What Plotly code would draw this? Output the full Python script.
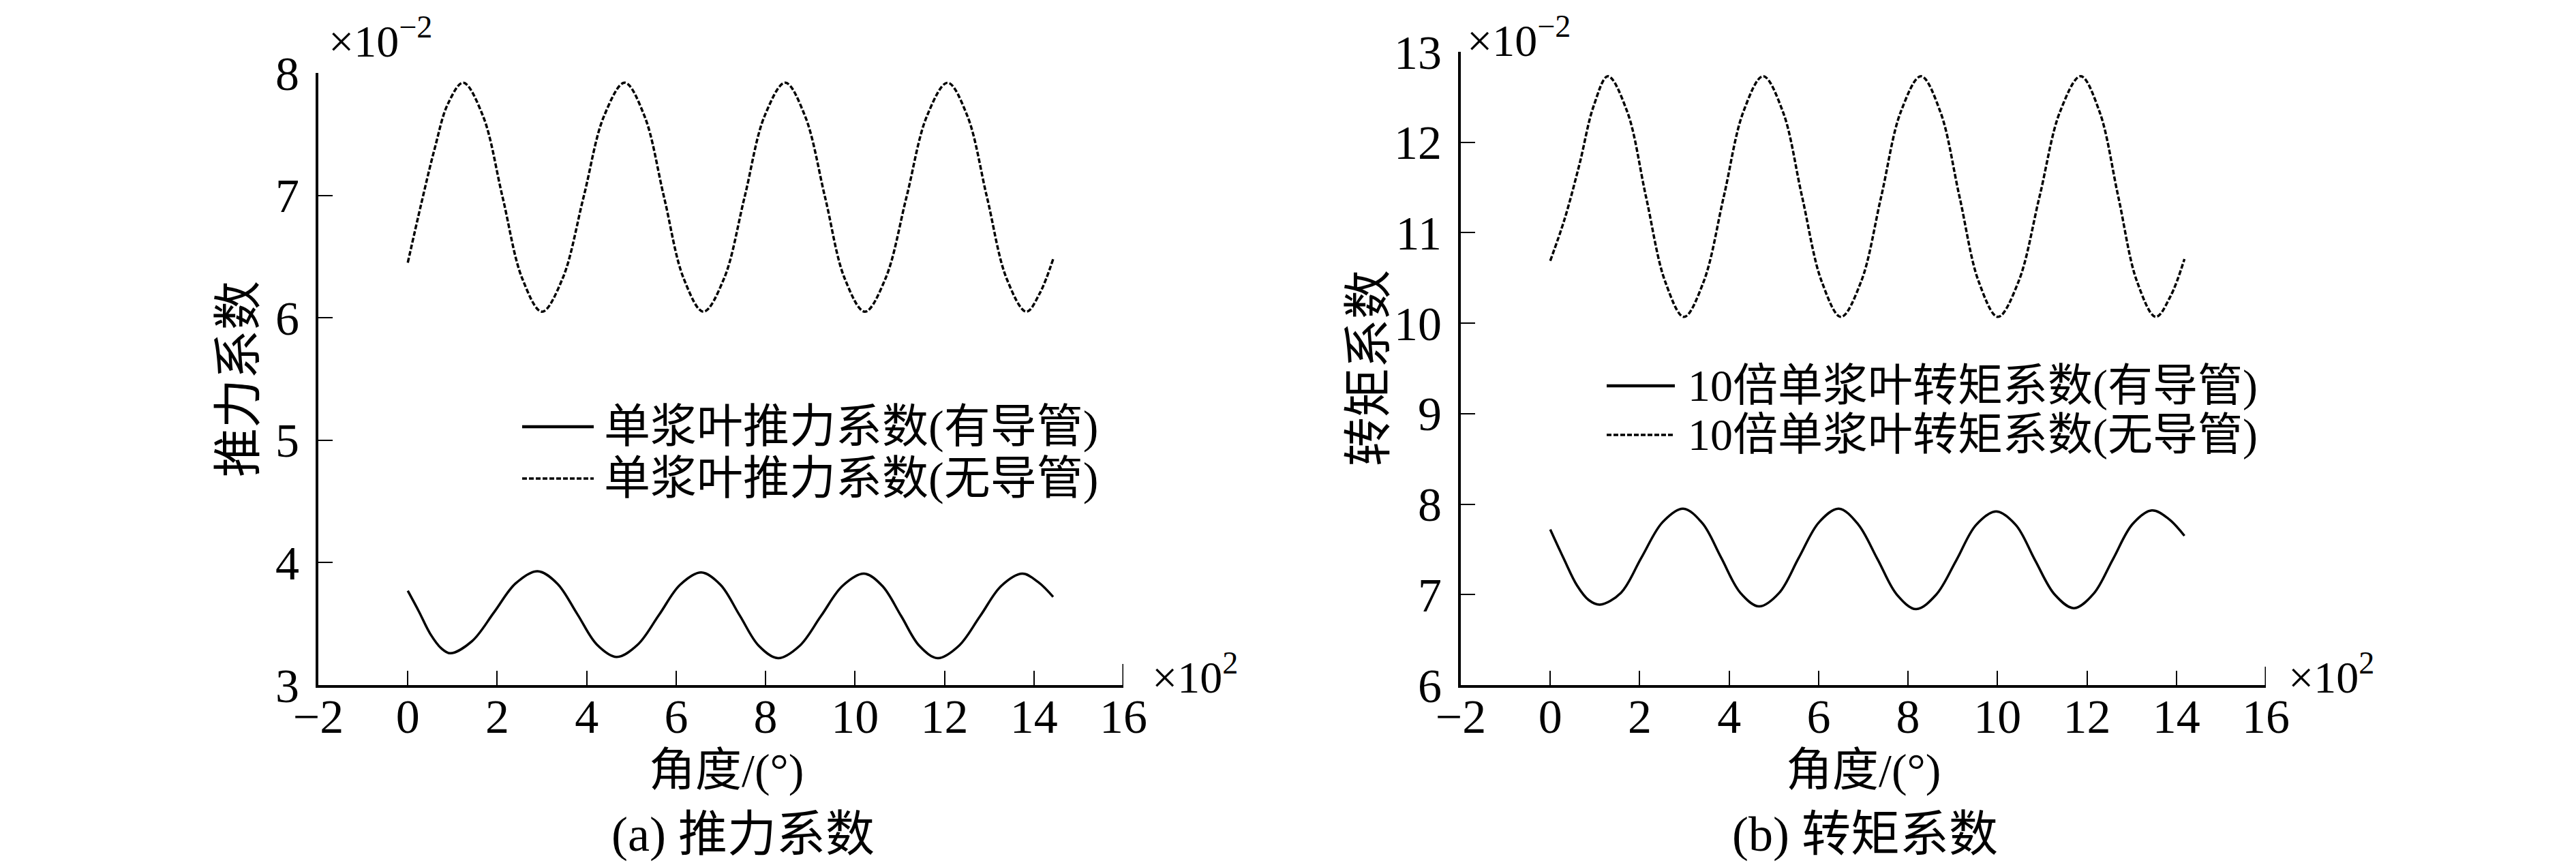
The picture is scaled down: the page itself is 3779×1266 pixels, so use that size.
import plotly.graph_objects as go

# ---- datos ----
# (a) coeficiente de empuje, x en x10^2 grados, y en x10^-2
ang_a_sin = [0, 0.3, 0.6, 0.9, 1.24, 1.68, 2.12, 2.56, 3.0, 3.46, 3.93, 4.39, 4.85,
             5.29, 5.73, 6.17, 6.61, 7.07, 7.53, 7.98, 8.44, 8.88, 9.33, 9.77, 10.22,
             10.68, 11.15, 11.61, 12.07, 12.51, 12.95, 13.39, 13.83, 14.13, 14.43]
kt_sin = [6.45, 6.93, 7.38, 7.75, 7.92, 7.65, 6.985, 6.32, 6.05, 6.32, 6.985, 7.65, 7.92,
          7.65, 6.985, 6.32, 6.05, 6.32, 6.985, 7.65, 7.92, 7.65, 6.985, 6.32, 6.05,
          6.32, 6.985, 7.65, 7.92, 7.65, 6.985, 6.32, 6.05, 6.2, 6.48]

ang_a_con = [0, 0.25, 0.5, 0.75, 0.95, 1.44, 1.93, 2.41, 2.9, 3.34, 3.79, 4.23, 4.67,
             5.14, 5.62, 6.09, 6.56, 6.99, 7.42, 7.85, 8.28, 8.76, 9.24, 9.72, 10.2,
             10.61, 11.03, 11.44, 11.85, 12.32, 12.8, 13.27, 13.74, 14.1, 14.43]
kt_con = [3.77, 3.6, 3.42, 3.3, 3.26, 3.36, 3.595, 3.83, 3.93, 3.83, 3.58, 3.33, 3.23,
          3.33, 3.575, 3.82, 3.92, 3.82, 3.57, 3.32, 3.22, 3.32, 3.565, 3.81, 3.91,
          3.81, 3.565, 3.32, 3.22, 3.32, 3.565, 3.81, 3.91, 3.84, 3.72]

# (b) coeficiente de par (x10)
ang_b_sin = [0, 0.32, 0.65, 0.97, 1.29, 1.72, 2.14, 2.57, 2.99, 3.43, 3.88, 4.32, 4.76,
             5.2, 5.63, 6.07, 6.5, 6.95, 7.4, 7.84, 8.29, 8.72, 9.15, 9.58, 10.01,
             10.47, 10.94, 11.4, 11.86, 12.28, 12.7, 13.12, 13.54, 13.87, 14.18]
kq_sin = [10.69, 11.15, 11.75, 12.4, 12.73, 12.34, 11.4, 10.46, 10.07, 10.46, 11.4, 12.34, 12.73,
          12.34, 11.4, 10.46, 10.07, 10.46, 11.4, 12.34, 12.73, 12.34, 11.4, 10.46, 10.07,
          10.46, 11.4, 12.34, 12.73, 12.34, 11.4, 10.46, 10.07, 10.3, 10.71]

ang_b_con = [0, 0.3, 0.6, 0.86, 1.11, 1.58, 2.04, 2.51, 2.97, 3.4, 3.82, 4.25, 4.67,
             5.12, 5.56, 6.01, 6.45, 6.88, 7.32, 7.75, 8.18, 8.63, 9.08, 9.52, 9.97,
             10.41, 10.84, 11.28, 11.71, 12.15, 12.58, 13.02, 13.45, 13.82, 14.18]
kq_con = [7.72, 7.4, 7.1, 6.94, 6.89, 7.02, 7.41, 7.8, 7.95, 7.79, 7.41, 7.02, 6.87,
          7.02, 7.41, 7.8, 7.95, 7.78, 7.39, 7.0, 6.84, 7.0, 7.38, 7.77, 7.92,
          7.77, 7.38, 7.0, 6.85, 7.01, 7.39, 7.78, 7.93, 7.84, 7.65]

nombres_a = ['单浆叶推力系数(有导管)', '单浆叶推力系数(无导管)']
nombres_b = ['10倍单浆叶转矩系数(有导管)', '10倍单浆叶转矩系数(无导管)']
x_ticks = [-2, 0, 2, 4, 6, 8, 10, 12, 14, 16]
y_ticks_a = [3, 4, 5, 6, 7, 8]
y_ticks_b = [6, 7, 8, 9, 10, 11, 12, 13]

W, H = 3779, 1266
FUENTE = 'Liberation Serif, Noto Sans CJK SC'
DASH = '7px,3px'


def px(x):
    return x / W


def py(y):
    return 1 - y / H


fig = go.Figure()

fig.add_trace(go.Scatter(x=ang_a_con, y=kt_con, mode='lines', line=dict(color='black', width=3.5, shape='spline'),
                         xaxis='x', yaxis='y', showlegend=False))
fig.add_trace(go.Scatter(x=ang_a_sin, y=kt_sin, mode='lines', line=dict(color='black', width=3.5, dash=DASH, shape='spline'),
                         xaxis='x', yaxis='y', showlegend=False))
fig.add_trace(go.Scatter(x=ang_b_con, y=kq_con, mode='lines', line=dict(color='black', width=3.5, shape='spline'),
                         xaxis='x2', yaxis='y2', showlegend=False))
fig.add_trace(go.Scatter(x=ang_b_sin, y=kq_sin, mode='lines', line=dict(color='black', width=3.5, dash=DASH, shape='spline'),
                         xaxis='x2', yaxis='y2', showlegend=False))

ejes = dict(showline=True, linecolor='black', linewidth=4, mirror=False, showgrid=False, zeroline=False,
            ticks='inside', ticklen=21, tickwidth=2, tickcolor='black', automargin=False,
            tickfont=dict(family=FUENTE, size=70, color='black'))

fig.update_layout(
    width=W, height=H,
    margin=dict(l=0, r=0, t=0, b=0, autoexpand=False),
    paper_bgcolor='white', plot_bgcolor='white',
    font=dict(family=FUENTE, color='black'),
    xaxis=dict(domain=[px(459), px(1640)], range=[-2, 16], tickvals=x_ticks, anchor='y',
               ticklabelstandoff=-18, **ejes),
    yaxis=dict(domain=[py(997), py(99)], range=[3, 8], tickvals=y_ticks_a, anchor='x',
               ticklabelstandoff=10, **ejes),
    xaxis2=dict(domain=[px(2135), px(3316)], range=[-2, 16], tickvals=x_ticks, anchor='y2',
                ticklabelstandoff=-18, **ejes),
    yaxis2=dict(domain=[py(997), py(68)], range=[6, 13], tickvals=y_ticks_b, anchor='x2',
                ticklabelstandoff=10, **ejes),
)

# marca final del eje x en 16
for xr, yr, alto in [('x', 'y domain', 31 / 898), ('x2', 'y2 domain', 27 / 929)]:
    fig.add_shape(type='line', xref=xr, yref=yr, x0=16, x1=16, y0=0, y1=alto,
                  line=dict(color='black', width=3))

# leyendas dibujadas a mano (muestra larga como en el original)
leyendas = [
    (nombres_a, 758, 863, 876, [618, 694], 68),
    (nombres_b, 2349, 2449, 2466, [558, 630], 66),
]
for nombres, xa, xb, xt, filas, tam in leyendas:
    for i, (nom, fy) in enumerate(zip(nombres, filas)):
        fig.add_shape(type='line', xref='paper', yref='paper', x0=px(xa), x1=px(xb), y0=py(fy), y1=py(fy),
                      line=dict(color='black', width=4.5 if i == 0 else 3.5, dash=None if i == 0 else DASH))
        fig.add_annotation(text=nom, xref='paper', yref='paper', x=px(xt), y=py(fy),
                           xanchor='left', yanchor='middle', showarrow=False,
                           font=dict(family=FUENTE, size=tam, color='black'))

textos = [
    ('×10<sup>−2</sup>', 472, 48, 'left', 66),
    ('×10<sup>2</sup>', 1680, 980, 'left', 66),
    ('×10<sup>−2</sup>', 2142, 46, 'left', 66),
    ('×10<sup>2</sup>', 3347, 980, 'left', 66),
    ('角度/(°)', 1057, 1122, 'center', 68),
    ('角度/(°)', 2725, 1122, 'center', 68),
    ('(a) 推力系数', 1082, 1216, 'center', 72),
    ('(b) 转矩系数', 2728, 1216, 'center', 72),
]
for txt, x, y, anc, tam in textos:
    fig.add_annotation(text=txt, xref='paper', yref='paper', x=px(x), y=py(y),
                       xanchor=anc, yanchor='middle', showarrow=False,
                       font=dict(family=FUENTE, size=tam, color='black'))

for txt, x, y in [('推力系数', 342, 548), ('转矩系数', 2000, 532)]:
    fig.add_annotation(text=txt, xref='paper', yref='paper', x=px(x), y=py(y), textangle=-90,
                       xanchor='center', yanchor='middle', showarrow=False,
                       font=dict(family=FUENTE, size=72, color='black'))

fig.write_html('out.html')
